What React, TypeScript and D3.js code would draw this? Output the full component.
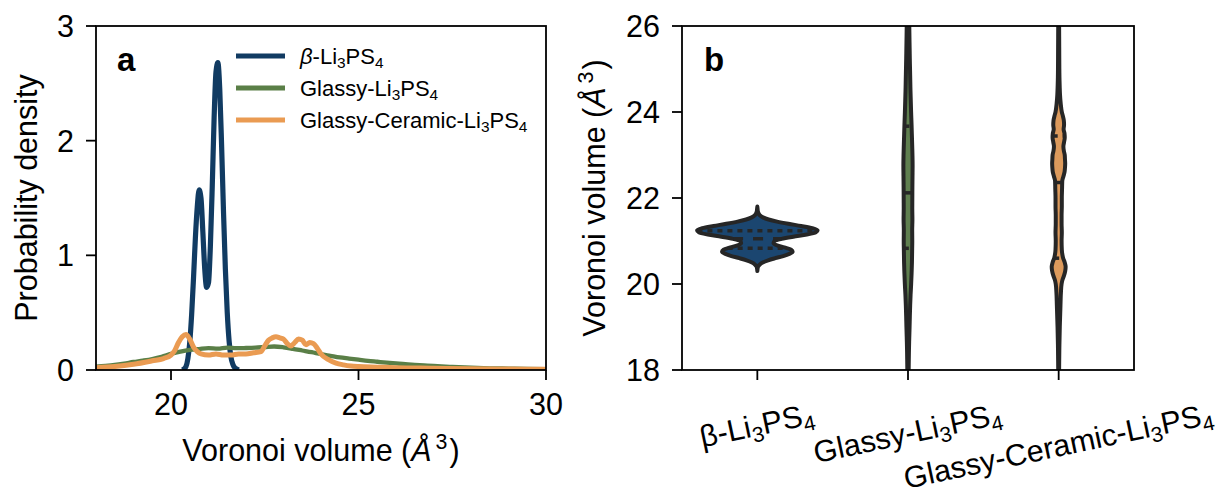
import React, { useEffect, useRef } from 'react';
import * as d3 from 'd3';

// ---------------- data ----------------
const seriesNames = ['β-Li3PS4', 'Glassy-Li3PS4', 'Glassy-Ceramic-Li3PS4'];
const lineColors = ['#113b62', '#5a7f47', '#ea9b52'];
const violinFills = ['#1b4670', '#5f7f4f', '#dc9a5c'];

const betaVol = [20.30, 20.35, 20.40, 20.45, 20.50, 20.55, 20.60, 20.65, 20.70, 20.75, 20.80, 20.85, 20.90, 20.95, 21.00, 21.05, 21.10, 21.15, 21.20, 21.25, 21.30, 21.35, 21.40, 21.45, 21.50, 21.55, 21.60, 21.65, 21.70, 21.75, 21.80];
const betaDen = [0, 0.01, 0.03, 0.1, 0.24, 0.48, 0.8, 1.15, 1.42, 1.57, 1.5, 1.2, 0.88, 0.72, 0.76, 1.08, 1.6, 2.2, 2.6, 2.68, 2.45, 1.95, 1.38, 0.88, 0.5, 0.25, 0.11, 0.05, 0.02, 0.01, 0];

const glassyVol = [18.0, 18.25, 18.5, 18.75, 19.0, 19.25, 19.5, 19.75, 20.0, 20.25, 20.5, 20.75, 21.0, 21.25, 21.5, 21.75, 22.0, 22.25, 22.5, 22.75, 23.0, 23.25, 23.5, 23.75, 24.0, 24.25, 24.5, 24.75, 25.0, 25.25, 25.5, 25.75, 26.0, 26.25, 26.5, 26.75, 27.0, 27.5, 28.0, 28.5, 29.0, 29.5, 30.0];
const glassyDen = [0.03, 0.036, 0.044, 0.056, 0.07, 0.082, 0.096, 0.115, 0.14, 0.16, 0.175, 0.183, 0.19, 0.186, 0.196, 0.19, 0.192, 0.195, 0.2, 0.205, 0.198, 0.185, 0.17, 0.155, 0.138, 0.124, 0.11, 0.1, 0.09, 0.08, 0.072, 0.064, 0.057, 0.05, 0.045, 0.04, 0.035, 0.027, 0.02, 0.015, 0.012, 0.009, 0.007];

const gcVol = [18.0, 18.5, 19.0, 19.5, 19.8, 20.0, 20.1, 20.2, 20.3, 20.4, 20.5, 20.6, 20.7, 20.8, 21.0, 21.2, 21.4, 21.6, 21.8, 22.0, 22.2, 22.4, 22.5, 22.6, 22.7, 22.8, 22.9, 23.0, 23.1, 23.2, 23.3, 23.4, 23.5, 23.6, 23.7, 23.8, 23.9, 24.0, 24.2, 24.4, 24.6, 24.8, 25.0, 25.5, 26.0, 27.0, 28.0, 29.0, 30.0];
const gcDen = [0.02, 0.03, 0.05, 0.08, 0.1, 0.13, 0.17, 0.24, 0.29, 0.31, 0.27, 0.2, 0.16, 0.14, 0.13, 0.14, 0.13, 0.13, 0.14, 0.14, 0.15, 0.16, 0.21, 0.26, 0.28, 0.29, 0.28, 0.27, 0.23, 0.21, 0.24, 0.27, 0.26, 0.22, 0.24, 0.23, 0.19, 0.14, 0.09, 0.06, 0.045, 0.035, 0.03, 0.025, 0.02, 0.015, 0.01, 0.008, 0.006];

// quartiles (Q1, median, Q3) for the violins
const quartiles = [
  [20.83, 21.05, 21.24],
  [20.83, 22.12, 23.67],
  [20.6, 22.36, 23.44],
];

const xTicksA = [20, 25, 30];
const yTicksA = [0, 1, 2, 3];
const yTicksB = [18, 20, 22, 24, 26];

// ---------------- helpers ----------------
const FONT = '"Liberation Sans", Arial, Helvetica, sans-serif';

type Part = { t: string; sub?: boolean; sup?: boolean; it?: boolean; dx?: number };

function formulaParts(name: string, italicBeta: boolean): Part[] {
  const parts: Part[] = [];
  let buf = '';
  for (const ch of name) {
    if (/[0-9]/.test(ch)) {
      if (buf) parts.push({ t: buf });
      buf = '';
      parts.push({ t: ch, sub: true });
    } else if (ch === 'β') {
      if (buf) parts.push({ t: buf });
      buf = '';
      parts.push({ t: ch, it: italicBeta });
    } else buf += ch;
  }
  if (buf) parts.push({ t: buf });
  return parts;
}

function richText(sel: any, parts: Part[], size: number) {
  let shift = 0;
  parts.forEach((p) => {
    const target = p.sub ? size * 0.2 : p.sup ? -size * 0.4 : 0;
    const ts = sel.append('tspan').text(p.t);
    const dy = target - shift;
    if (dy !== 0) ts.attr('dy', dy);
    if (p.dx) ts.attr('dx', p.dx);
    if (p.sub || p.sup) ts.attr('font-size', size * 0.7);
    if (p.it) ts.attr('font-style', 'italic');
    shift = target;
  });
}

const volumeLabel: Part[] = [
  { t: 'Voronoi volume (' },
  { t: 'Å', it: true },
  { t: '3', sup: true, dx: 4 },
  { t: ')', dx: 2 },
];

function densAt(xs: number[], ys: number[], v: number) {
  const i = d3.bisectLeft(xs, v);
  if (i <= 0) return ys[0];
  if (i >= xs.length) return ys[ys.length - 1];
  const t = (v - xs[i - 1]) / (xs[i] - xs[i - 1]);
  return ys[i - 1] + t * (ys[i] - ys[i - 1]);
}

export default function App() {
  const ref = useRef<SVGSVGElement>(null);

  useEffect(() => {
    const svg = d3.select(ref.current);
    svg.selectAll('*').remove();
    svg.attr('font-family', FONT);
    const defs = svg.append('defs');
    const FS = 30.5;
    const TICK = 10;
    const AXW = 1.8;

    const series = [
      { x: betaVol, y: betaDen, w: 5.2 },
      { x: glassyVol, y: glassyDen, w: 4.3 },
      { x: gcVol, y: gcDen, w: 5 },
    ];

    // ---------------- Panel a ----------------
    const A = { l: 96, r: 546, t: 26, b: 370 };
    const xA = d3.scaleLinear().domain([18, 30]).range([A.l, A.r]);
    const yA = d3.scaleLinear().domain([0, 3]).range([A.b, A.t]);
    defs.append('clipPath').attr('id', 'clipA').append('rect')
      .attr('x', A.l).attr('y', A.t).attr('width', A.r - A.l).attr('height', A.b - A.t);
    const gA = svg.append('g');
    const line = d3.line<[number, number]>()
      .x((d) => xA(d[0])).y((d) => yA(d[1])).curve(d3.curveMonotoneX);
    series.forEach((s, i) => {
      gA.append('path')
        .attr('clip-path', 'url(#clipA)')
        .attr('d', line(s.x.map((v, j) => [v, s.y[j]] as [number, number])))
        .attr('fill', 'none')
        .attr('stroke', lineColors[i])
        .attr('stroke-width', s.w)
        .attr('stroke-linejoin', 'round');
    });
    gA.append('rect').attr('x', A.l).attr('y', A.t).attr('width', A.r - A.l).attr('height', A.b - A.t)
      .attr('fill', 'none').attr('stroke', '#000').attr('stroke-width', AXW);
    xTicksA.forEach((t) => {
      gA.append('line').attr('x1', xA(t)).attr('x2', xA(t)).attr('y1', A.b).attr('y2', A.b + TICK)
        .attr('stroke', '#000').attr('stroke-width', AXW);
      gA.append('text').attr('x', xA(t)).attr('y', 415).attr('text-anchor', 'middle')
        .attr('font-size', FS).text(String(t));
    });
    yTicksA.forEach((t) => {
      gA.append('line').attr('x1', A.l - TICK).attr('x2', A.l).attr('y1', yA(t)).attr('y2', yA(t))
        .attr('stroke', '#000').attr('stroke-width', AXW);
      gA.append('text').attr('x', A.l - TICK - 12).attr('y', yA(t)).attr('dy', '0.36em')
        .attr('text-anchor', 'end').attr('font-size', FS).text(String(t));
    });
    const xlabA = gA.append('text').attr('x', (A.l + A.r) / 2).attr('y', 461)
      .attr('text-anchor', 'middle').attr('font-size', FS);
    richText(xlabA, volumeLabel, FS);
    gA.append('text').attr('transform', `translate(37,${(A.t + A.b) / 2}) rotate(-90)`)
      .attr('text-anchor', 'middle').attr('font-size', FS).text('Probability density');
    gA.append('text').attr('x', 117).attr('y', 71).attr('font-size', 33).attr('font-weight', 'bold').text('a');

    // legend
    seriesNames.forEach((n, i) => {
      const ly = 56 + i * 32;
      gA.append('line').attr('x1', 236).attr('x2', 285).attr('y1', ly).attr('y2', ly)
        .attr('stroke', lineColors[i]).attr('stroke-width', 5);
      const tx = gA.append('text').attr('x', 300).attr('y', ly + 8).attr('font-size', 22);
      richText(tx, formulaParts(n, true), 22);
    });

    // ---------------- Panel b ----------------
    const B = { l: 682, r: 1134, t: 26, b: 370 };
    const xB = d3.scalePoint<string>().domain(seriesNames).range([B.l, B.r]).padding(0.5);
    const yB = d3.scaleLinear().domain([18, 26]).range([B.b, B.t]);
    const maxDen = d3.max(series.map((s) => d3.max(s.y) as number)) as number;
    const wB = d3.scaleLinear().domain([0, maxDen]).range([0, xB.step() * 0.4]);
    defs.append('clipPath').attr('id', 'clipB').append('rect')
      .attr('x', B.l).attr('y', B.t).attr('width', B.r - B.l).attr('height', B.b - B.t);
    const gB = svg.append('g');
    const gV = gB.append('g').attr('clip-path', 'url(#clipB)');
    series.forEach((s, i) => {
      const cx = xB(seriesNames[i]) as number;
      const area = d3.area<[number, number]>()
        .y((d) => yB(d[0]))
        .x0((d) => cx - wB(d[1]))
        .x1((d) => cx + wB(d[1]))
        .curve(d3.curveMonotoneY);
      gV.append('path')
        .attr('d', area(s.x.map((v, j) => [v, s.y[j]] as [number, number])))
        .attr('fill', violinFills[i])
        .attr('stroke', '#262626')
        .attr('stroke-width', 4)
        .attr('stroke-linejoin', 'round');
      quartiles[i].forEach((q, k) => {
        const hw = wB(densAt(s.x, s.y, q));
        gV.append('line')
          .attr('x1', cx - hw).attr('x2', cx + hw).attr('y1', yB(q)).attr('y2', yB(q))
          .attr('stroke', '#262626').attr('stroke-width', 3.5)
          .attr('stroke-dasharray', k === 1 ? '10 10' : '5 5');
      });
    });
    gB.append('rect').attr('x', B.l).attr('y', B.t).attr('width', B.r - B.l).attr('height', B.b - B.t)
      .attr('fill', 'none').attr('stroke', '#000').attr('stroke-width', AXW);
    yTicksB.forEach((t) => {
      gB.append('line').attr('x1', B.l - TICK).attr('x2', B.l).attr('y1', yB(t)).attr('y2', yB(t))
        .attr('stroke', '#000').attr('stroke-width', AXW);
      gB.append('text').attr('x', B.l - TICK - 12).attr('y', yB(t)).attr('dy', '0.36em')
        .attr('text-anchor', 'end').attr('font-size', FS).text(String(t));
    });
    const ang = 12;
    const rad = (ang * Math.PI) / 180;
    seriesNames.forEach((n) => {
      const cx = xB(n) as number;
      gB.append('line').attr('x1', cx).attr('x2', cx).attr('y1', B.b).attr('y2', B.b + TICK)
        .attr('stroke', '#000').attr('stroke-width', AXW);
      const t = gB.append('text').attr('x', 0).attr('y', 0).attr('text-anchor', 'middle').attr('font-size', FS);
      richText(t, formulaParts(n, false), FS);
      const bb = (t.node() as SVGTextElement).getBBox();
      const bcx = bb.x + bb.width / 2;
      const bcy = bb.y + bb.height / 2;
      const halfH = (bb.width / 2) * Math.sin(rad) + (bb.height / 2) * Math.cos(rad);
      const ty = 396 + halfH;
      t.attr('transform', `translate(${cx},${ty}) rotate(${-ang}) translate(${-bcx},${-bcy})`);
    });
    const ylabB = gB.append('text').attr('transform', `translate(605,${(B.t + B.b) / 2}) rotate(-90)`)
      .attr('text-anchor', 'middle').attr('font-size', FS);
    richText(ylabB, volumeLabel, FS);
    gB.append('text').attr('x', 704).attr('y', 71).attr('font-size', 33).attr('font-weight', 'bold').text('b');
  }, []);

  return (
    <svg
      ref={ref}
      width={1223}
      height={499}
      viewBox="0 0 1223 499"
      style={{ position: 'absolute', left: 0, top: 0, display: 'block', background: '#fff' }}
    />
  );
}
